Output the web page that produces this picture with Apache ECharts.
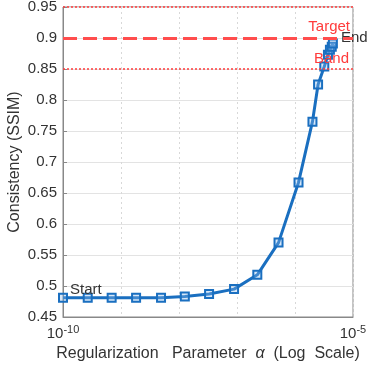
<!DOCTYPE html>
<html>
<head>
<meta charset="utf-8">
<script src="https://cdn.jsdelivr.net/npm/echarts@6/dist/echarts.min.js"></script>
<style>
html,body{margin:0;padding:0;background:#fff;}
#chart{width:372px;height:367px;}
</style>
</head>
<body>
<div id="chart"></div>
<script>
// Data
const alphaValues = [1.0e-10, 2.67e-10, 6.9e-10, 1.82e-9, 4.9e-9, 1.26e-8, 3.3e-8, 8.9e-8,
  2.24e-7, 5.2e-7, 1.15e-6, 2.0e-6, 2.5e-6, 3.2e-6, 3.7e-6, 4.0e-6, 4.3e-6, 4.5e-6];
const ssimValues = [0.481, 0.481, 0.481, 0.481, 0.481, 0.483, 0.487, 0.495,
  0.518, 0.570, 0.667, 0.765, 0.825, 0.854, 0.873, 0.881, 0.886, 0.891];
const targetLevel = 0.9;
const bandLevels = [0.85, 0.95];
const targetText = 'Target';
const bandText = 'Band';
const startText = 'Start';
const endText = 'End';
const xLabelExponents = [-10, -5];
const yMin = 0.45, yMax = 0.95, yStep = 0.05;

const blue = '#1a6fc0';
const red = '#ff3b3b';
const font = 'Liberation Sans, Arial, sans-serif';

const seriesData = alphaValues.map((a, i) => {
  const item = { value: [a, ssimValues[i]] };
  if (i === 0) {
    item.label = { show: true, formatter: startText, position: 'right', distance: 2, offset: [0, -8],
      color: '#333', fontSize: 15, fontFamily: font };
  }
  if (i === alphaValues.length - 1) {
    item.label = { show: true, formatter: endText, position: 'right', distance: 3, offset: [0, -6],
      color: '#333', fontSize: 15, fontFamily: font };
  }
  return item;
});

const chart = echarts.init(document.getElementById('chart'), null, { renderer: 'canvas' });
chart.setOption({
  animation: false,
  backgroundColor: '#fff',
  grid: { left: 63, right: 19, top: 7, bottom: 50, containLabel: false, outerBoundsMode: 'none',
    show: true, borderColor: '#888', borderWidth: 1, backgroundColor: 'transparent' },
  xAxis: {
    type: 'log', logBase: 10, min: 1e-10, max: 1e-5,
    name: 'Regularization   Parameter  {i|α}  (Log  Scale)',
    nameLocation: 'middle', nameGap: 29, nameMoveOverlap: false,
    nameTextStyle: { color: '#333', fontSize: 16, fontFamily: font,
      rich: { i: { fontStyle: 'italic', fontSize: 16, color: '#333', fontFamily: font } } },
    axisLine: { show: true, lineStyle: { color: '#888', width: 1 } },
    axisTick: { show: false },
    splitLine: { show: true, lineStyle: { color: '#d8d8d8', type: [2, 3], width: 1 } },
    axisLabel: {
      color: '#333', fontFamily: font, margin: 7,
      formatter: function (v) {
        const e = Math.round(Math.log10(v));
        if (xLabelExponents.indexOf(e) < 0) return '';
        return '{b|10}{s|' + e + '}';
      },
      rich: {
        b: { fontSize: 15, color: '#333', fontFamily: font, verticalAlign: 'bottom', lineHeight: 17 },
        s: { fontSize: 11, color: '#333', fontFamily: font, verticalAlign: 'top', lineHeight: 17 }
      }
    }
  },
  yAxis: {
    type: 'value', min: yMin, max: yMax, interval: yStep,
    name: 'Consistency (SSIM)', nameLocation: 'middle', nameGap: 40, nameMoveOverlap: false,
    nameTextStyle: { color: '#333', fontSize: 16, fontFamily: font },
    axisLine: { show: true, lineStyle: { color: '#888', width: 1 } },
    axisTick: { show: true, inside: true, length: 4, lineStyle: { color: '#888' } },
    splitLine: { show: true, lineStyle: { color: '#e3e3e3', width: 1 } },
    axisLabel: {
      color: '#333', fontSize: 15, fontFamily: font, margin: 6,
      formatter: function (v) { return String(+v.toFixed(2)); }
    }
  },
  series: [{
    type: 'line',
    data: seriesData,
    symbol: 'rect', symbolSize: 8,
    lineStyle: { color: blue, width: 3 },
    itemStyle: { color: 'rgba(140,185,235,0.35)', borderColor: blue, borderWidth: 2 },
    z: 3,
    markLine: {
      silent: true, symbol: 'none', animation: false,
      data: [
        { yAxis: bandLevels[1], lineStyle: { color: red, type: [2, 2], width: 1.6 }, label: { show: false } },
        { yAxis: targetLevel, lineStyle: { color: '#ff4d4d', type: [14, 6], width: 3 },
          label: { show: true, formatter: targetText, position: 'insideEndTop', distance: [3, 4],
            color: red, fontSize: 15, fontFamily: font } },
        { yAxis: bandLevels[0], lineStyle: { color: red, type: [2, 2], width: 1.6 },
          label: { show: true, formatter: bandText, position: 'insideEndTop', distance: [4, 3],
            color: red, fontSize: 15, fontFamily: font } }
      ]
    }
  }]
});
</script>
</body>
</html>
